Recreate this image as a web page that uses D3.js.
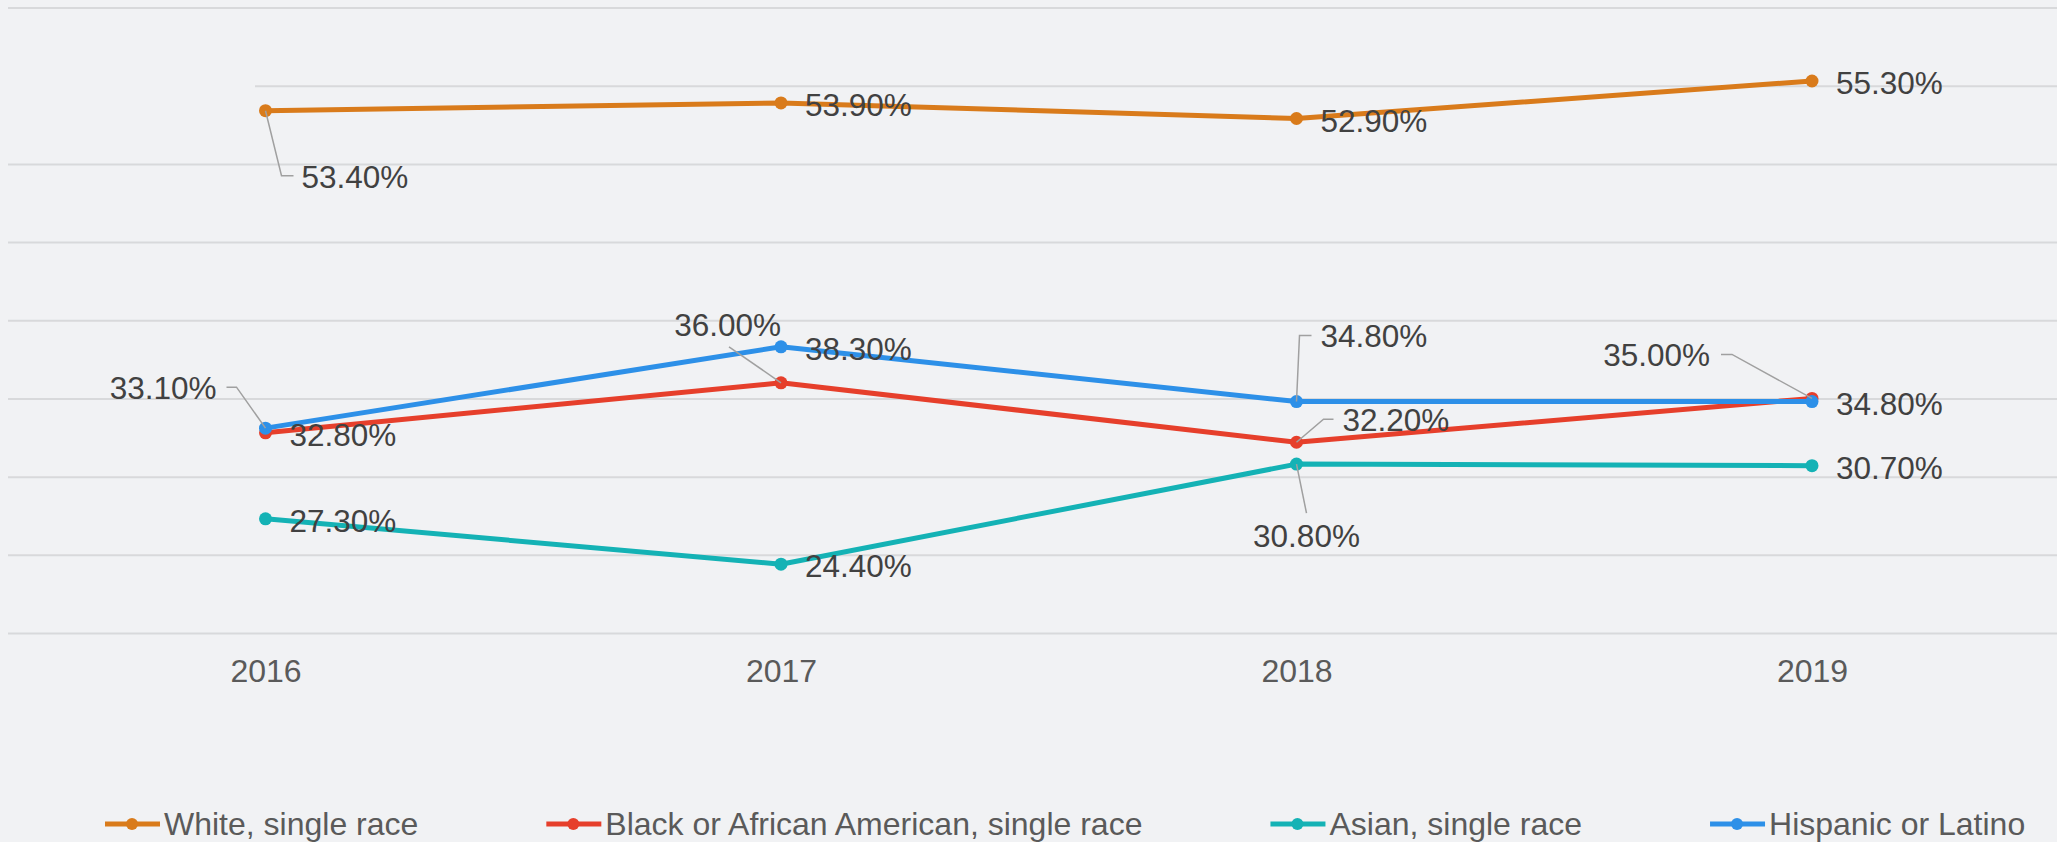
<!DOCTYPE html>
<html>
<head>
<meta charset="utf-8">
<script src="https://cdn.jsdelivr.net/npm/d3@7"></script>
<style>
  html, body { margin: 0; padding: 0; background: #f1f2f4; }
  svg { display: block; }
  text { font-family: "Liberation Sans", Arial, sans-serif; }
</style>
</head>
<body>
<svg id="chart" width="2057" height="842"></svg>
<script>
// ---- data ----
const years = ["2016", "2017", "2018", "2019"];
const seriesNames = ["White, single race", "Black or African American, single race", "Asian, single race", "Hispanic or Latino"];
const whiteValues = [53.4, 53.9, 52.9, 55.3];
const blackValues = [32.8, 36.0, 32.2, 35.0];
const asianValues = [27.3, 24.4, 30.8, 30.7];
const hispanicValues = [33.1, 38.3, 34.8, 34.8];
const gridTicks = [20, 25, 30, 35, 40, 45, 50, 55, 60];

// ---- style / layout ----
const colors = ["#d97b1b", "#e63f2b", "#14b2b5", "#2d90e8"];
const W = 2057, H = 842;
const FONT = 31.5;
const LEGEND_FONT = 32;
const allValues = [whiteValues, blackValues, asianValues, hispanicValues];

// label placements (offsets in px relative to the data point); default is right of point
const defaultLabel = { dx: 24, dy: 2, anchor: "start", leader: null };
const labelTweaks = {
  "0-0": { dx: 36, dy: 66, anchor: "start", leader: [[0,0],[16,65],[28,65]] },
  "3-0": { dx: -49, dy: -40, anchor: "end", leader: [[0,0],[-29,-41],[-39,-41]] },
  "1-1": { dx: 0, dy: -58, anchor: "end", leader: [[0,0],[-52,-36]] },
  "3-2": { dx: 24, dy: -66, anchor: "start", leader: [[0,0],[3,-66],[15,-66]] },
  "1-2": { dx: 46, dy: -22, anchor: "start", leader: [[0,0],[27,-23],[37,-23]] },
  "2-2": { dx: 10, dy: 72, anchor: "middle", leader: [[0,0],[10,49]] },
  "1-3": { dx: -102, dy: -43, anchor: "end", leader: [[0,0],[-80,-44],[-91,-44]] }
};

const svg = d3.select("#chart");
svg.append("rect").attr("width", W).attr("height", H).attr("fill", "#f1f2f4");

const x = d3.scalePoint().domain(years).range([265.5, 1812]);
const y = d3.scaleLinear().domain([20, 60]).range([633, 7.5]);

// gridlines
const grid = svg.append("g").attr("transform", "translate(2057,0)")
  .call(d3.axisLeft(y).tickValues(gridTicks).tickSize(2049).tickFormat(""));
grid.select(".domain").remove();
grid.selectAll(".tick line").attr("stroke", "#d8d9db").attr("stroke-width", 2);
grid.selectAll(".tick").filter(d => d === 55).select("line").attr("x2", -1802);

// x axis
const xa = svg.append("g").attr("transform", "translate(0,633)")
  .call(d3.axisBottom(x).tickSize(0).tickPadding(26));
xa.select(".domain").remove();
xa.selectAll("text").attr("font-size", LEGEND_FONT).attr("fill", "#5a5a5a")
  .attr("font-family", "'Liberation Sans', Arial, sans-serif");

// lines
const line = d3.line().x((d, i) => x(years[i])).y(d => y(d));
const series = svg.append("g");
allValues.forEach((vals, s) => {
  const g = series.append("g");
  g.append("path").attr("d", line(vals)).attr("fill", "none")
    .attr("stroke", colors[s]).attr("stroke-width", 5).attr("stroke-linejoin", "round");
  g.selectAll("circle").data(vals).join("circle")
    .attr("cx", (d, i) => x(years[i])).attr("cy", d => y(d)).attr("r", 6.5)
    .attr("fill", colors[s]);
});

// labels
const fmt = v => d3.format(".2f")(v) + "%";
const labels = svg.append("g");
allValues.forEach((vals, s) => {
  vals.forEach((v, i) => {
    const px = x(years[i]), py = y(v);
    const t = labelTweaks[s + "-" + i] || defaultLabel;
    if (t.leader) {
      labels.append("polyline")
        .attr("points", t.leader.map(p => (px + p[0]) + "," + (py + p[1])).join(" "))
        .attr("fill", "none").attr("stroke", "#a0a0a0").attr("stroke-width", 1.5);
    }
    labels.append("text")
      .attr("x", px + t.dx).attr("y", py + t.dy)
      .attr("text-anchor", t.anchor).attr("dominant-baseline", "central")
      .attr("font-size", FONT).attr("fill", "#414141")
      .text(fmt(v));
  });
});

// legend
const legend = svg.append("g").attr("transform", "translate(0,824)");
let lx = 105;
seriesNames.forEach((name, s) => {
  const g = legend.append("g").attr("transform", `translate(${lx},0)`);
  g.append("line").attr("x1", 0).attr("x2", 55).attr("y1", 0).attr("y2", 0)
    .attr("stroke", colors[s]).attr("stroke-width", 5);
  g.append("circle").attr("cx", 27).attr("cy", 0).attr("r", 6).attr("fill", colors[s]);
  const txt = g.append("text").attr("x", 59).attr("y", 0)
    .attr("dominant-baseline", "central").attr("font-size", LEGEND_FONT).attr("fill", "#5a5a5a")
    .text(name);
  lx += 59 + txt.node().getComputedTextLength() + 128;
});
</script>
</body>
</html>
